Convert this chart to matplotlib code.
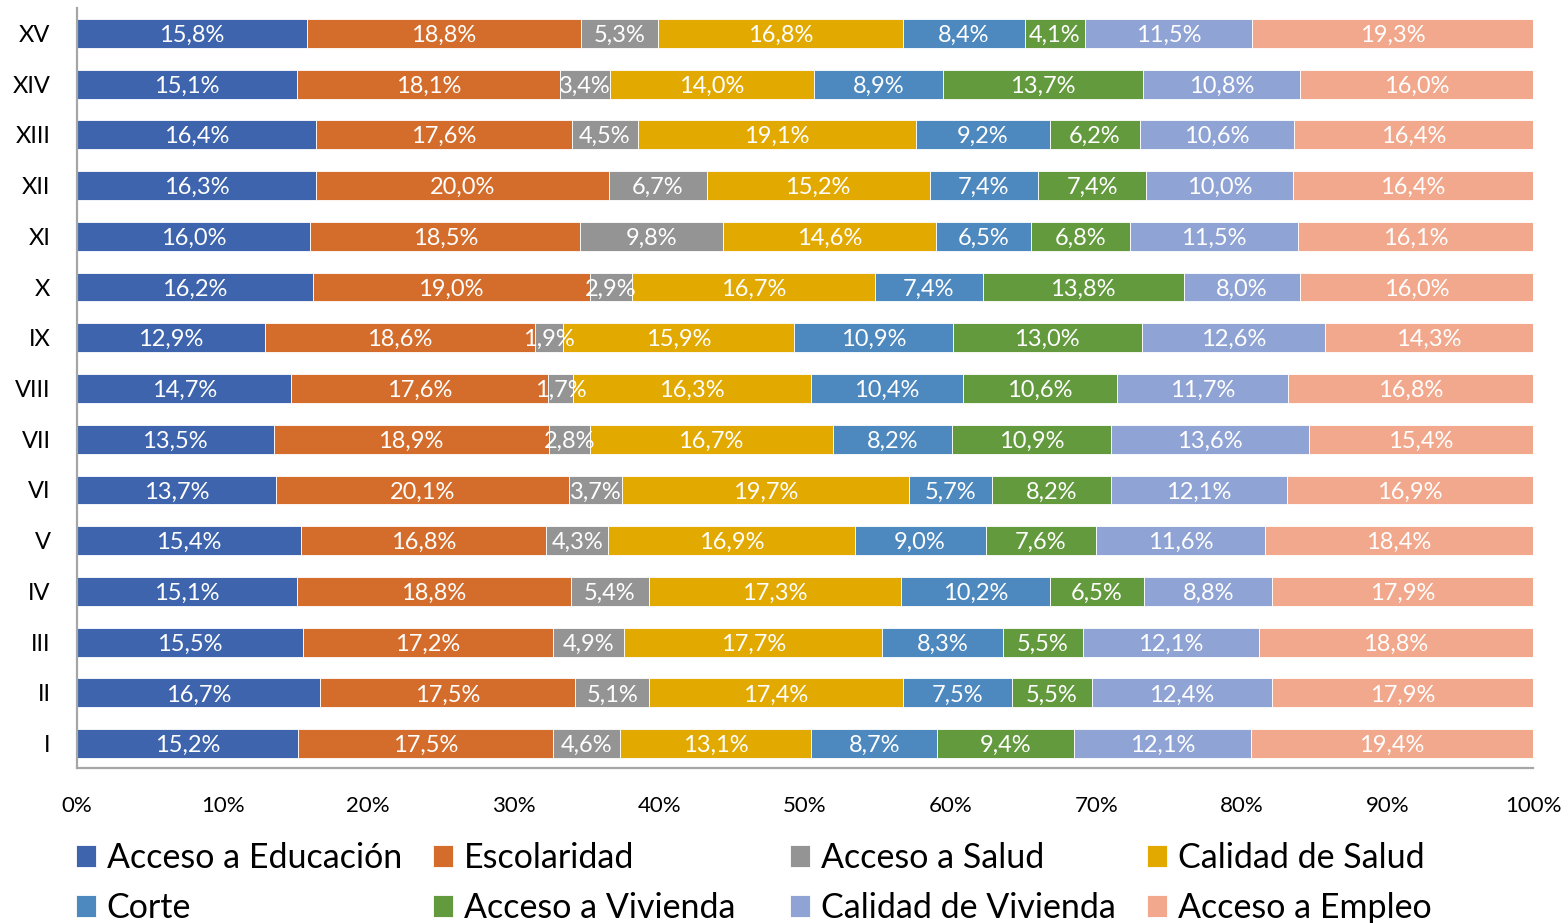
import numpy as np
import matplotlib.pyplot as plt

########## Data ##########
periods = ["I", "II", "III", "IV", "V", "VI", "VII", "VIII",
           "IX", "X", "XI", "XII", "XIII", "XIV", "XV"]

series = ["Acceso a Educación", "Escolaridad", "Acceso a Salud", "Calidad de Salud",
          "Corte", "Acceso a Vivienda", "Calidad de Vivienda", "Acceso a Empleo"]

colors = ["#3D64AD", "#D46D2B", "#949494", "#E2A900",
          "#4D88BE", "#629A3D", "#8FA3D4", "#F1A88C"]

# one list per series, periods I..XV
acc_educacion = [15.2, 16.7, 15.5, 15.1, 15.4, 13.7, 13.5, 14.7, 12.9, 16.2, 16.0, 16.3, 16.4, 15.1, 15.8]
escolaridad   = [17.5, 17.5, 17.2, 18.8, 16.8, 20.1, 18.9, 17.6, 18.6, 19.0, 18.5, 20.0, 17.6, 18.1, 18.8]
acc_salud     = [4.6, 5.1, 4.9, 5.4, 4.3, 3.7, 2.8, 1.7, 1.9, 2.9, 9.8, 6.7, 4.5, 3.4, 5.3]
cal_salud     = [13.1, 17.4, 17.7, 17.3, 16.9, 19.7, 16.7, 16.3, 15.9, 16.7, 14.6, 15.2, 19.1, 14.0, 16.8]
corte         = [8.7, 7.5, 8.3, 10.2, 9.0, 5.7, 8.2, 10.4, 10.9, 7.4, 6.5, 7.4, 9.2, 8.9, 8.4]
acc_vivienda  = [9.4, 5.5, 5.5, 6.5, 7.6, 8.2, 10.9, 10.6, 13.0, 13.8, 6.8, 7.4, 6.2, 13.7, 4.1]
cal_vivienda  = [12.1, 12.4, 12.1, 8.8, 11.6, 12.1, 13.6, 11.7, 12.6, 8.0, 11.5, 10.0, 10.6, 10.8, 11.5]
acc_empleo    = [19.4, 17.9, 18.8, 17.9, 18.4, 16.9, 15.4, 16.8, 14.3, 16.0, 16.1, 16.4, 16.4, 16.0, 19.3]

values = np.array([acc_educacion, escolaridad, acc_salud, cal_salud,
                   corte, acc_vivienda, cal_vivienda, acc_empleo])

########## Figure ##########
plt.rcParams['font.family'] = ['Lato', 'DejaVu Sans']

fig = plt.figure(figsize=(15.68, 9.23), dpi=100)
ax = fig.add_axes([77/1568, 1-768/923, (1533-77)/1568, (768-8)/923])

# 100% stacked: scale each period to its total
shares = values / values.sum(axis=0) * 100
y = np.arange(len(periods))
left = np.zeros(len(periods))
handles = []
for i, name in enumerate(series):
    bars = ax.barh(y, shares[i], left=left, height=0.57, color=colors[i],
                   edgecolor="white", linewidth=0.6, label=name)
    handles.append(bars)
    labels = [f"{v:.1f}%".replace(".", ",") for v in values[i]]
    txt = ax.bar_label(bars, labels=labels, label_type="center", color="white",
                       fontsize=17)
    for t in txt:
        t.set_va("center_baseline")
    left += shares[i]

ax.set_xlim(0, 100)
ax.set_ylim(-0.48, 14.5)
ax.set_xticks(np.arange(0, 101, 10))
ax.set_xticklabels([f"{t}%" for t in range(0, 101, 10)])
ax.set_yticks(y)
ax.set_yticklabels(periods)
ax.tick_params(axis="x", length=0, pad=20, labelsize=16)
ax.tick_params(axis="y", length=0, pad=19, labelsize=17)
for s in ["top", "right"]:
    ax.spines[s].set_visible(False)
for s in ["left", "bottom"]:
    ax.spines[s].set_color("#A6A6A6")
    ax.spines[s].set_linewidth(1.6)

##### Legend: 4 columns, 2 rows #####
col_x = [76, 433, 790, 1147]
for j in range(4):
    leg = fig.legend([handles[j], handles[j+4]], [series[j], series[j+4]],
                     loc="upper left", bbox_to_anchor=(col_x[j]/1568, 1-842/923),
                     frameon=False, fontsize=24.5, handlelength=0.6, handleheight=0.6,
                     handletextpad=0.3, labelspacing=0.52, borderpad=0, borderaxespad=0)

fig.savefig("out.png", dpi=100)
